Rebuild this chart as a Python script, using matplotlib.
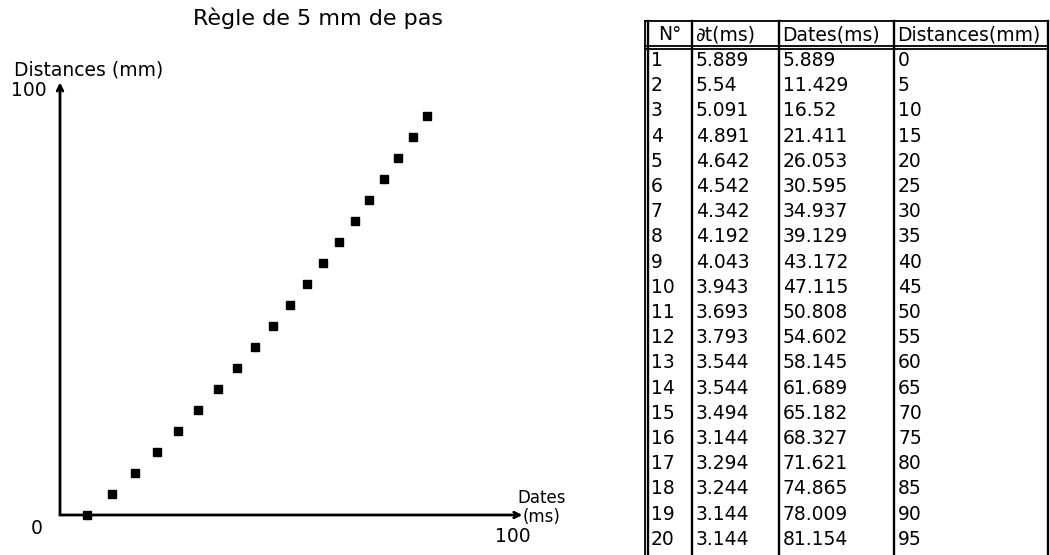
import numpy as np
import matplotlib.pyplot as plt

# table / chart data
num = list(range(1, 21))
dt = [5.889, 5.54, 5.091, 4.891, 4.642, 4.542, 4.342, 4.192, 4.043, 3.943,
      3.693, 3.793, 3.544, 3.544, 3.494, 3.144, 3.294, 3.244, 3.144, 3.144]
dates = [5.889, 11.429, 16.52, 21.411, 26.053, 30.595, 34.937, 39.129, 43.172, 47.115,
         50.808, 54.602, 58.145, 61.689, 65.182, 68.327, 71.621, 74.865, 78.009, 81.154]
distances = [0, 5, 10, 15, 20, 25, 30, 35, 40, 45,
             50, 55, 60, 65, 70, 75, 80, 85, 90, 95]
headers = ["N°", "∂t(ms)", "Dates(ms)", "Distances(mm)"]

W, H = 1050, 555
fig = plt.figure(figsize=(W / 100, H / 100), dpi=100)
fig.patch.set_facecolor("white")

# overlay in pixel coordinates for text and table
over = fig.add_axes([0, 0, 1, 1])
over.set_xlim(0, W)
over.set_ylim(H, 0)
over.axis("off")

fs = 13.5

# scatter plot area: x 0..100 -> px 60..512, y 0..100 -> px 515..95
ax = fig.add_axes([60 / W, (H - 515) / H, 452 / W, 420 / H])
ax.set_xlim(0, 100)
ax.set_ylim(0, 100)
ax.axis("off")
ax.plot(dates, distances, "s", color="black", markersize=6, clip_on=False)
ax.annotate("", xy=(102.3, 0), xytext=(0, 0),
            arrowprops=dict(arrowstyle="->", lw=2, color="black",
                            shrinkA=0, shrinkB=0), annotation_clip=False)
ax.annotate("", xy=(0, 103), xytext=(0, 0),
            arrowprops=dict(arrowstyle="->", lw=2, color="black",
                            shrinkA=0, shrinkB=0), annotation_clip=False)

over.text(318, 18, "Règle de 5 mm de pas", fontsize=16, ha="center", va="center")
over.text(14, 70, "Distances (mm)", fontsize=fs, ha="left", va="center")
over.text(47, 90, "100", fontsize=fs, ha="right", va="center")
over.text(37, 529, "0", fontsize=fs, ha="center", va="center")
over.text(513, 536, "100", fontsize=fs, ha="center", va="center")
over.text(517, 498, "Dates", fontsize=12, ha="left", va="center")
over.text(523, 517, "(ms)", fontsize=12, ha="left", va="center")

# table
top, head_bot, row_h = 21, 47, 25.2
col_x = [648, 692, 779, 894, 1048]
lw = 1.3
over.plot([col_x[0] - 3, col_x[-1]], [top, top], color="black", lw=lw)
over.plot([col_x[0] - 3, col_x[-1]], [head_bot - 1.5, head_bot - 1.5], color="black", lw=lw)
over.plot([col_x[0] - 3, col_x[-1]], [head_bot + 1.5, head_bot + 1.5], color="black", lw=lw)
over.plot([col_x[0] - 3, col_x[0] - 3], [top, H], color="black", lw=lw)
for x in col_x:
    over.plot([x, x], [top, H], color="black", lw=lw + 0.4)

head_y = (top + head_bot) / 2 + 1
over.text((col_x[0] + col_x[1]) / 2, head_y, headers[0], fontsize=fs, ha="center", va="center")
for j in range(1, 4):
    over.text(col_x[j] + 3, head_y, headers[j], fontsize=fs, ha="left", va="center")

for i in range(len(num)):
    y = head_bot + (i + 0.5) * row_h + 1
    over.text(col_x[0] + 3, y, str(num[i]), fontsize=fs, ha="left", va="center")
    over.text(col_x[1] + 4, y, f"{dt[i]:g}", fontsize=fs, ha="left", va="center")
    over.text(col_x[2] + 4, y, f"{dates[i]:g}", fontsize=fs, ha="left", va="center")
    over.text(col_x[3] + 4, y, str(distances[i]), fontsize=fs, ha="left", va="center")

fig.savefig("out.png", dpi=100, facecolor="white")
